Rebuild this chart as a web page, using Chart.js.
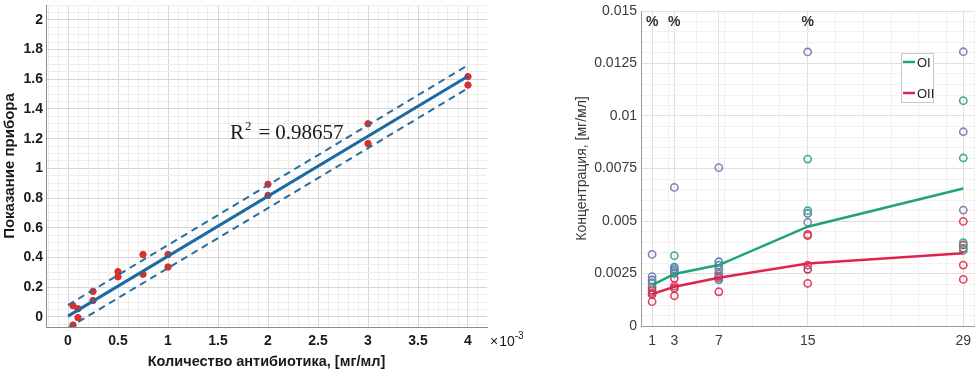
<!DOCTYPE html>
<html>
<head>
<meta charset="utf-8">
<script src="https://cdn.jsdelivr.net/npm/chart.js@4"></script>
<style>
    html, body { margin: 0; padding: 0; background: #fff; overflow: hidden; }
    body { width: 975px; height: 371px; position: relative; }
    #calibBox { position: absolute; left: 0; top: 0; width: 530px; height: 371px; }
    #concBox { position: absolute; left: 560px; top: 0; width: 420px; height: 371px; }
</style>
</head>
<body>
<div id="calibBox"><canvas id="calibChart"></canvas></div>
<div id="concBox"><canvas id="concChart"></canvas></div>
<script>
// --- Калибровка: количество антибиотика (x10^-3 мг/мл) -> показание прибора
const doseX    = [0.05, 0.05, 0.1, 0.1, 0.25, 0.25, 0.5, 0.5, 0.75, 0.75, 1, 1, 2, 2, 3, 3, 4, 4];
const readingY = [0.075, -0.055, 0.055, -0.005, 0.172, 0.11, 0.305, 0.27, 0.42, 0.287, 0.42, 0.336, 0.893, 0.818, 1.30, 1.167, 1.618, 1.561];
const fitX   = [0, 4];
const fitY   = [0.005, 1.62];
const upperY = [0.08, 1.695];
const lowerY = [-0.075, 1.54];
const calibXTicks = [0, 0.5, 1, 1.5, 2, 2.5, 3, 3.5, 4];
const calibYTicks = [0, 0.2, 0.4, 0.6, 0.8, 1, 1.2, 1.4, 1.6, 1.8, 2];
const r2Value = '0.98657';
const r2LabelX = 1.62, r2LabelY = 1.2;

// --- Концентрация по дням
const concXTicks = [1, 3, 7, 15, 29];
const concYTicks = [0, 0.0025, 0.005, 0.0075, 0.01, 0.0125, 0.015];
const concYLabels = ['0', '0.0025', '0.005', '0.0075', '0.01', '0.0125', '0.015'];
const meanOI  = [0.00195, 0.00248, 0.0029, 0.00473, 0.00655];
const meanOII = [0.00152, 0.00187, 0.0023, 0.00298, 0.00346];
const legendNames = ['OI', 'OII'];

const purpleX = [1, 1, 3, 7, 7, 15, 15, 29, 29, 29];
const purpleY = [0.00341, 0.00235, 0.0066, 0.00754, 0.0025, 0.01305, 0.00494, 0.01306, 0.00925, 0.00552];
const greenX  = [3, 15, 15, 29, 29, 29, 29];
const greenY  = [0.00335, 0.00795, 0.00549, 0.01073, 0.008, 0.00397, 0.0036];
const blueX   = [1, 1, 3, 3, 3, 3, 7, 7, 7, 7, 15];
const blueY   = [0.00219, 0.00205, 0.0028, 0.0027, 0.0026, 0.0025, 0.00306, 0.0029, 0.0027, 0.0022, 0.00536];
const redX    = [1, 1, 1, 3, 3, 3, 7, 7, 7, 15, 15, 15, 15, 29, 29, 29];
const redY    = [0.00184, 0.00159, 0.00116, 0.00227, 0.0019, 0.00144, 0.0025, 0.00238, 0.00163, 0.00436, 0.0043, 0.0029, 0.00203, 0.00498, 0.0029, 0.00222];
const maroonX = [1, 1, 3, 7, 15, 29, 29];
const maroonY = [0.0017, 0.0015, 0.0018, 0.0023, 0.0027, 0.00386, 0.0037];
const pctX = [1, 3, 15];
const pctY = 0.01448;

const SANS = '"Liberation Sans", Arial, sans-serif';
const SERIF = '"Liberation Serif", "DejaVu Serif", serif';
const GREEN = '#1fa37a', RED = '#e0234e';

function pts(xs, ys) { return xs.map((x, i) => ({ x: x, y: ys[i] })); }
function isIn(list, v) { return list.some(m => Math.abs(m - v) < 1e-9); }
function withMinor(major, step, min, max) {
    const out = [];
    for (let i = Math.ceil(min / step); i * step <= max + 1e-12; i++) out.push(+(i * step).toFixed(8));
    major.forEach(m => { if (!isIn(out, m)) out.push(m); });
    return out.sort((a, b) => a - b);
}
function pinTicks(values) {
    return function (scale) { scale.ticks = values.map(v => ({ value: v })); };
}
function fixSize(w, h) {
    return function (scale) {
        if (w !== null) scale.width = w;
        if (h !== null) scale.height = h;
        scale.paddingTop = scale.paddingBottom = scale.paddingLeft = scale.paddingRight = 0;
    };
}

// Подписи на левом графике
const calibText = {
    id: 'calibText',
    afterDraw(chart) {
        const { ctx, scales: { x, y } } = chart;
        ctx.save();
        ctx.fillStyle = '#1a1a1a';
        ctx.textBaseline = 'alphabetic';
        let px = x.getPixelForValue(r2LabelX);
        const py = y.getPixelForValue(r2LabelY);
        ctx.font = '21px ' + SERIF;
        ctx.fillText('R', px, py);
        px += ctx.measureText('R').width + 1;
        ctx.font = '13px ' + SERIF;
        ctx.fillText('2', px, py - 9);
        px += ctx.measureText('2').width + 7;
        ctx.font = '21px ' + SERIF;
        ctx.fillText('=', px, py);
        px += ctx.measureText('=').width + 5;
        ctx.fillText(r2Value, px, py);

        // множитель оси X
        ctx.font = '14px ' + SANS;
        ctx.textBaseline = 'middle';
        let mx = chart.chartArea.right + 3;
        const my = chart.chartArea.bottom + 15;
        ctx.fillText('\u00d7', mx, my);
        mx += ctx.measureText('\u00d7').width + 1;
        ctx.fillText('10', mx, my);
        mx += ctx.measureText('10').width;
        ctx.font = '10px ' + SANS;
        ctx.fillText('-3', mx, my - 6);
        ctx.restore();
    }
};

// Знаки % и легенда на правом графике
const concText = {
    id: 'concText',
    afterDraw(chart) {
        const { ctx, scales: { x, y } } = chart;
        ctx.save();
        ctx.font = 'bold 14px ' + SANS;
        ctx.fillStyle = '#333';
        ctx.textAlign = 'center';
        ctx.textBaseline = 'middle';
        pctX.forEach(v => ctx.fillText('%', x.getPixelForValue(v), y.getPixelForValue(pctY)));

        const bx = 341, by = 53, bw = 32, bh = 49;
        ctx.fillStyle = '#fff';
        ctx.fillRect(bx, by, bw, bh);
        ctx.strokeStyle = '#c8c8c8';
        ctx.lineWidth = 1;
        ctx.strokeRect(bx + 0.5, by + 0.5, bw, bh);
        const cols = [GREEN, RED];
        legendNames.forEach((name, i) => {
            const ly = by + 9 + i * 31;
            ctx.strokeStyle = cols[i];
            ctx.lineWidth = 2.5;
            ctx.beginPath();
            ctx.moveTo(bx + 2, ly);
            ctx.lineTo(bx + 14, ly);
            ctx.stroke();
            ctx.fillStyle = '#222';
            ctx.textAlign = 'left';
            ctx.font = '13px ' + SANS;
            ctx.fillText(name, bx + 16, ly + 1);
        });
        ctx.restore();
    }
};

document.addEventListener('DOMContentLoaded', function () {
    // Левый график: калибровочная прямая
    const cxMin = -0.22, cxMax = 4.19, cyMin = -0.068, cyMax = 2.1;
    const cxAll = withMinor(calibXTicks, 0.1, cxMin, cxMax);
    const cyAll = withMinor(calibYTicks, 0.05, cyMin, cyMax);

    new Chart(document.getElementById('calibChart'), {
        type: 'scatter',
        data: {
            datasets: [
                { data: pts(doseX, readingY), backgroundColor: '#d92f2f', borderColor: '#d92f2f', pointRadius: 3.2, order: 3 },
                { data: pts(fitX, fitY), showLine: true, borderColor: '#1c6aa3', borderWidth: 3, pointRadius: 0, order: 1 },
                { data: pts(fitX, upperY), showLine: true, borderColor: '#2a6d98', borderWidth: 2, borderDash: [7, 5], pointRadius: 0, order: 2 },
                { data: pts(fitX, lowerY), showLine: true, borderColor: '#2a6d98', borderWidth: 2, borderDash: [7, 5], pointRadius: 0, order: 2 }
            ]
        },
        options: {
            responsive: true,
            maintainAspectRatio: false,
            animation: false,
            layout: { padding: { top: 0, right: 43, bottom: 0, left: 0 } },
            plugins: { legend: { display: false }, tooltip: { enabled: false } },
            scales: {
                x: {
                    type: 'linear', min: cxMin, max: cxMax,
                    afterBuildTicks: pinTicks(cxAll),
                    afterFit: fixSize(null, 44),
                    grid: { drawTicks: false, color: c => isIn(calibXTicks, c.tick.value) ? '#d6d6d6' : '#ededed' },
                    border: { color: '#8c8c8c' },
                    ticks: {
                        autoSkip: false, maxRotation: 0, padding: 6, color: '#1a1a1a',
                        font: { family: SANS, size: 14, weight: 'bold' },
                        callback: v => isIn(calibXTicks, v) ? String(v) : ''
                    },
                    title: {
                        display: true, text: 'Количество антибиотика, [мг/мл]', color: '#1a1a1a',
                        font: { family: SANS, size: 14.5, weight: 'bold' }, padding: { top: 0, bottom: 0 }
                    }
                },
                y: {
                    min: cyMin, max: cyMax,
                    afterBuildTicks: pinTicks(cyAll),
                    afterFit: fixSize(46, null),
                    grid: { drawTicks: false, color: c => isIn(calibYTicks, c.tick.value) ? '#d6d6d6' : '#ededed' },
                    border: { color: '#8c8c8c' },
                    ticks: {
                        autoSkip: false, padding: 3, color: '#1a1a1a',
                        font: { family: SANS, size: 14, weight: 'bold' },
                        callback: v => isIn(calibYTicks, v) ? String(v) : ''
                    },
                    title: {
                        display: true, text: 'Показание прибора', color: '#1a1a1a',
                        font: { family: SANS, size: 15, weight: 'bold' }, padding: { top: 1, bottom: 0 }
                    }
                }
            }
        },
        plugins: [calibText]
    });

    // Правый график: концентрация по дням
    const kxMin = 0, kxMax = 30, kyMin = 0, kyMax = 0.015;
    const kxAll = withMinor(concXTicks, 2.5, kxMin, kxMax);
    const kyAll = withMinor(concYTicks, 0.0005, kyMin, kyMax);
    const ring = (xs, ys, color) => ({
        data: pts(xs, ys), pointStyle: 'circle', pointRadius: 3.6, borderWidth: 1.6,
        borderColor: color, backgroundColor: 'rgba(0,0,0,0)', order: 2
    });

    new Chart(document.getElementById('concChart'), {
        type: 'scatter',
        data: {
            datasets: [
                ring(purpleX, purpleY, '#8782b5'),
                ring(greenX, greenY, '#41ad8a'),
                ring(blueX, blueY, '#5a87ab'),
                ring(maroonX, maroonY, '#b5435e'),
                ring(redX, redY, '#e2405e'),
                { data: pts(concXTicks, meanOI), showLine: true, borderColor: GREEN, borderWidth: 2.5, pointRadius: 0, order: 1 },
                { data: pts(concXTicks, meanOII), showLine: true, borderColor: RED, borderWidth: 2.5, pointRadius: 0, order: 1 }
            ]
        },
        options: {
            responsive: true,
            maintainAspectRatio: false,
            animation: false,
            layout: { padding: { top: 11, right: 4, bottom: 0, left: 0 } },
            plugins: { legend: { display: false }, tooltip: { enabled: false } },
            scales: {
                x: {
                    type: 'linear', min: kxMin, max: kxMax,
                    afterBuildTicks: pinTicks(kxAll),
                    afterFit: fixSize(null, 45),
                    grid: { drawTicks: false, color: c => isIn(concXTicks, c.tick.value) ? '#e0e0e0' : '#f1f1f1' },
                    border: { color: '#9a9a9a' },
                    ticks: {
                        autoSkip: false, maxRotation: 0, padding: 7, color: '#3a3a3a',
                        font: { family: SANS, size: 14 },
                        callback: v => isIn(concXTicks, v) ? String(v) : ''
                    }
                },
                y: {
                    min: kyMin, max: kyMax,
                    afterBuildTicks: pinTicks(kyAll),
                    afterFit: fixSize(81, null),
                    grid: { drawTicks: false, color: c => isIn(concYTicks, c.tick.value) ? '#e0e0e0' : '#f1f1f1' },
                    border: { color: '#9a9a9a' },
                    ticks: {
                        autoSkip: false, padding: 4, color: '#3a3a3a',
                        font: { family: SANS, size: 14 },
                        callback: v => {
                            const k = concYTicks.findIndex(m => Math.abs(m - v) < 1e-9);
                            return k >= 0 ? concYLabels[k] : '';
                        }
                    },
                    title: {
                        display: true, text: 'Концентрация, [мг/мл]', color: '#3a3a3a',
                        font: { family: SANS, size: 14 }, padding: { top: 14, bottom: 0 }
                    }
                }
            }
        },
        plugins: [concText]
    });
});
</script>
</body>
</html>
